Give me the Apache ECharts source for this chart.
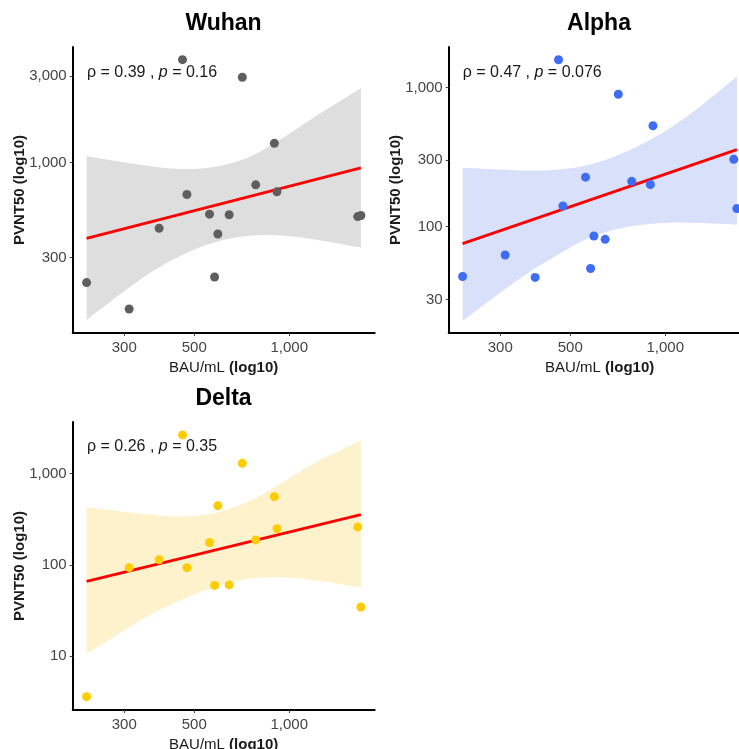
<!DOCTYPE html>
<html><head><meta charset="utf-8">
<script src="https://cdn.jsdelivr.net/npm/echarts@6/dist/echarts.min.js"></script>
<style>html,body{margin:0;padding:0;background:#fff}#c{width:739px;height:749px}</style>
</head><body><div id="c"></div>
<script>
// BAU/mL (x), shared by the three panels
const bauX = [228, 311, 387, 459, 474, 559, 580, 594, 645, 710, 783, 897, 914, 1648, 1686];
// PVNT50 per variant
const wuhanY = [218, 156, 435, 3696, 667, 520, 234, 404, 516, 2958, 754, 1277, 690, 504, 511];
const alphaY = [43.8, 62.6, 43.2, 1588, 141, 227, 50, 85.7, 81.1, 897, 212, 201, 532, 305, 135];
const deltaY = [3.6, 93.4, 114, 2663, 93.4, 176, 59.7, 447, 60.4, 1300, 188, 561, 250, 261, 34.6];
// confidence band
const bandX = [228, 350, 450, 575, 735, 935, 1190, 1686];
const wuhanUpper = [1083, 963, 923, 947, 1061, 1338, 1762, 2571];
const wuhanLower = [136, 237, 305, 362, 394, 397, 378, 340];
const alphaUpper = [265, 254, 257, 279, 339, 446, 637, 1199];
const alphaLower = [21.1, 43.2, 61.6, 83.4, 98.4, 105.6, 106.9, 103.8];
const deltaUpper = [429, 362, 339, 368, 486, 773, 1280, 2306];
const deltaLower = [10.6, 26.6, 40.7, 56.7, 70.1, 73.1, 68.6, 56.7];
// regression line end points
const fitX = [228, 1686];
const wuhanFit = [382, 936];
const alphaFit = [75.5, 358];
const deltaFit = [66.1, 356];
// ticks
const xTicks = [300, 500, 1000];
const wuhanTicks = [300, 1000, 3000];
const alphaTicks = [30, 100, 300, 1000];
const deltaTicks = [10, 100, 1000];
const titles = ['Wuhan', 'Alpha', 'Delta'];
const rhoVals = ['0.39', '0.47', '0.26'];
const pVals = ['0.16', '0.076', '0.35'];

const FONT = '"Liberation Sans", Arial, Helvetica, sans-serif';
const panels = [
  {y: wuhanY, up: wuhanUpper, lo: wuhanLower, fit: wuhanFit, ticks: wuhanTicks,
   pt: '#5e5e5e', band: '#DEDEDE', ymin: 115, ymax: 4340,
   grid: {left: 72.7, top: 47, width: 302, height: 286}},
  {y: alphaY, up: alphaUpper, lo: alphaLower, fit: alphaFit, ticks: alphaTicks,
   pt: '#3e6df5', band: '#D8E0FA', ymin: 17.2, ymax: 1960,
   grid: {left: 448.7, top: 47, width: 302, height: 286}},
  {y: deltaY, up: deltaUpper, lo: deltaLower, fit: deltaFit, ticks: deltaTicks,
   pt: '#FFCC00', band: '#FDF2CB', ymin: 2.57, ymax: 3690,
   grid: {left: 72.7, top: 422, width: 302, height: 288}}
];
const fmt = v => Math.round(v).toLocaleString('en-US');

function bandRenderer(p) {
  return function (params, api) {
    if (params.dataIndex !== 0) return null;
    const upper = bandX.map((x, k) => api.coord([x, p.up[k]]));
    const lower = bandX.map((x, k) => api.coord([x, p.lo[k]])).reverse();
    const n = upper.length;
    // duplicate corner points so the smoothing keeps the vertical ends straight
    const pts = [upper[0], ...upper, upper[n - 1], lower[0], ...lower, lower[n - 1]];
    return {
      type: 'polygon',
      shape: {points: pts, smooth: 0.35},
      style: {fill: p.band, stroke: null},
      silent: true
    };
  };
}

const grid = [], xAxis = [], yAxis = [], series = [], graphic = [];
panels.forEach((p, i) => {
  grid.push(Object.assign({containLabel: false, outerBoundsMode: 'none'}, p.grid));
  xAxis.push({
    type: 'log', gridIndex: i, min: 206, max: 1865, z: 10,
    axisLine: {lineStyle: {color: '#000', width: 2}},
    axisTick: {length: 3, customValues: xTicks, lineStyle: {color: '#444'}},
    axisLabel: {customValues: xTicks, formatter: fmt, color: '#444', fontSize: 15, fontFamily: FONT, margin: 7},
    splitLine: {show: false}, minorTick: {show: false},
    name: '{n|BAU/mL }{b|(log10)}', nameLocation: 'middle', nameGap: 27, nameMoveOverlap: false,
    nameTextStyle: {rich: {n: {fontSize: 15, fontFamily: FONT, color: '#1a1a1a'},
                           b: {fontSize: 15, fontFamily: FONT, fontWeight: 'bold', color: '#1a1a1a'}}}
  });
  yAxis.push({
    type: 'log', gridIndex: i, min: p.ymin, max: p.ymax, z: 10,
    axisLine: {lineStyle: {color: '#000', width: 2}},
    axisTick: {length: 3, customValues: p.ticks, lineStyle: {color: '#444'}},
    axisLabel: {customValues: p.ticks, formatter: fmt, color: '#444', fontSize: 15, fontFamily: FONT, margin: 6},
    splitLine: {show: false}, minorTick: {show: false},
    name: 'PVNT50 (log10)', nameLocation: 'middle', nameGap: 45, nameMoveOverlap: false,
    nameTextStyle: {fontSize: 15, fontWeight: 'bold', fontFamily: FONT, color: '#1a1a1a'}
  });
  series.push({
    type: 'custom', xAxisIndex: i, yAxisIndex: i, silent: true, z: 1,
    data: bandX.map((x, k) => [x, p.lo[k], p.up[k]]),
    encode: {x: 0, y: [1, 2]},
    renderItem: bandRenderer(p)
  });
  series.push({
    type: 'line', xAxisIndex: i, yAxisIndex: i, silent: true,
    data: fitX.map((x, k) => [x, p.fit[k]]), symbol: 'none',
    lineStyle: {color: '#FF0000', width: 2.8}, z: 3
  });
  series.push({
    type: 'scatter', xAxisIndex: i, yAxisIndex: i,
    data: bauX.map((x, k) => [x, p.y[k]]), symbolSize: 9,
    itemStyle: {color: p.pt, opacity: 1}, z: 4
  });
  graphic.push({
    type: 'text', x: [223.5, 599, 223.5][i], y: [24, 24, 399][i], z: 20,
    style: {text: titles[i], align: 'center', verticalAlign: 'middle',
            font: 'bold 23px ' + FONT, fill: '#000'}
  });
  graphic.push({
    type: 'text', x: [87, 462.7, 87][i], y: [73, 72.5, 447][i], z: 20,
    style: {text: '{a|\u03C1 = ' + rhoVals[i] + ' , }{i|p}{a| = ' + pVals[i] + '}',
            align: 'left', verticalAlign: 'middle',
            rich: {a: {fontSize: 16, fontFamily: FONT, fill: '#1a1a1a'},
                   i: {fontSize: 16, fontFamily: FONT, fontStyle: 'italic', fill: '#1a1a1a'}}}
  });
});

const chart = echarts.init(document.getElementById('c'));
chart.setOption({
  animation: false, backgroundColor: '#fff',
  grid, xAxis, yAxis, series, graphic
});
</script></body></html>
